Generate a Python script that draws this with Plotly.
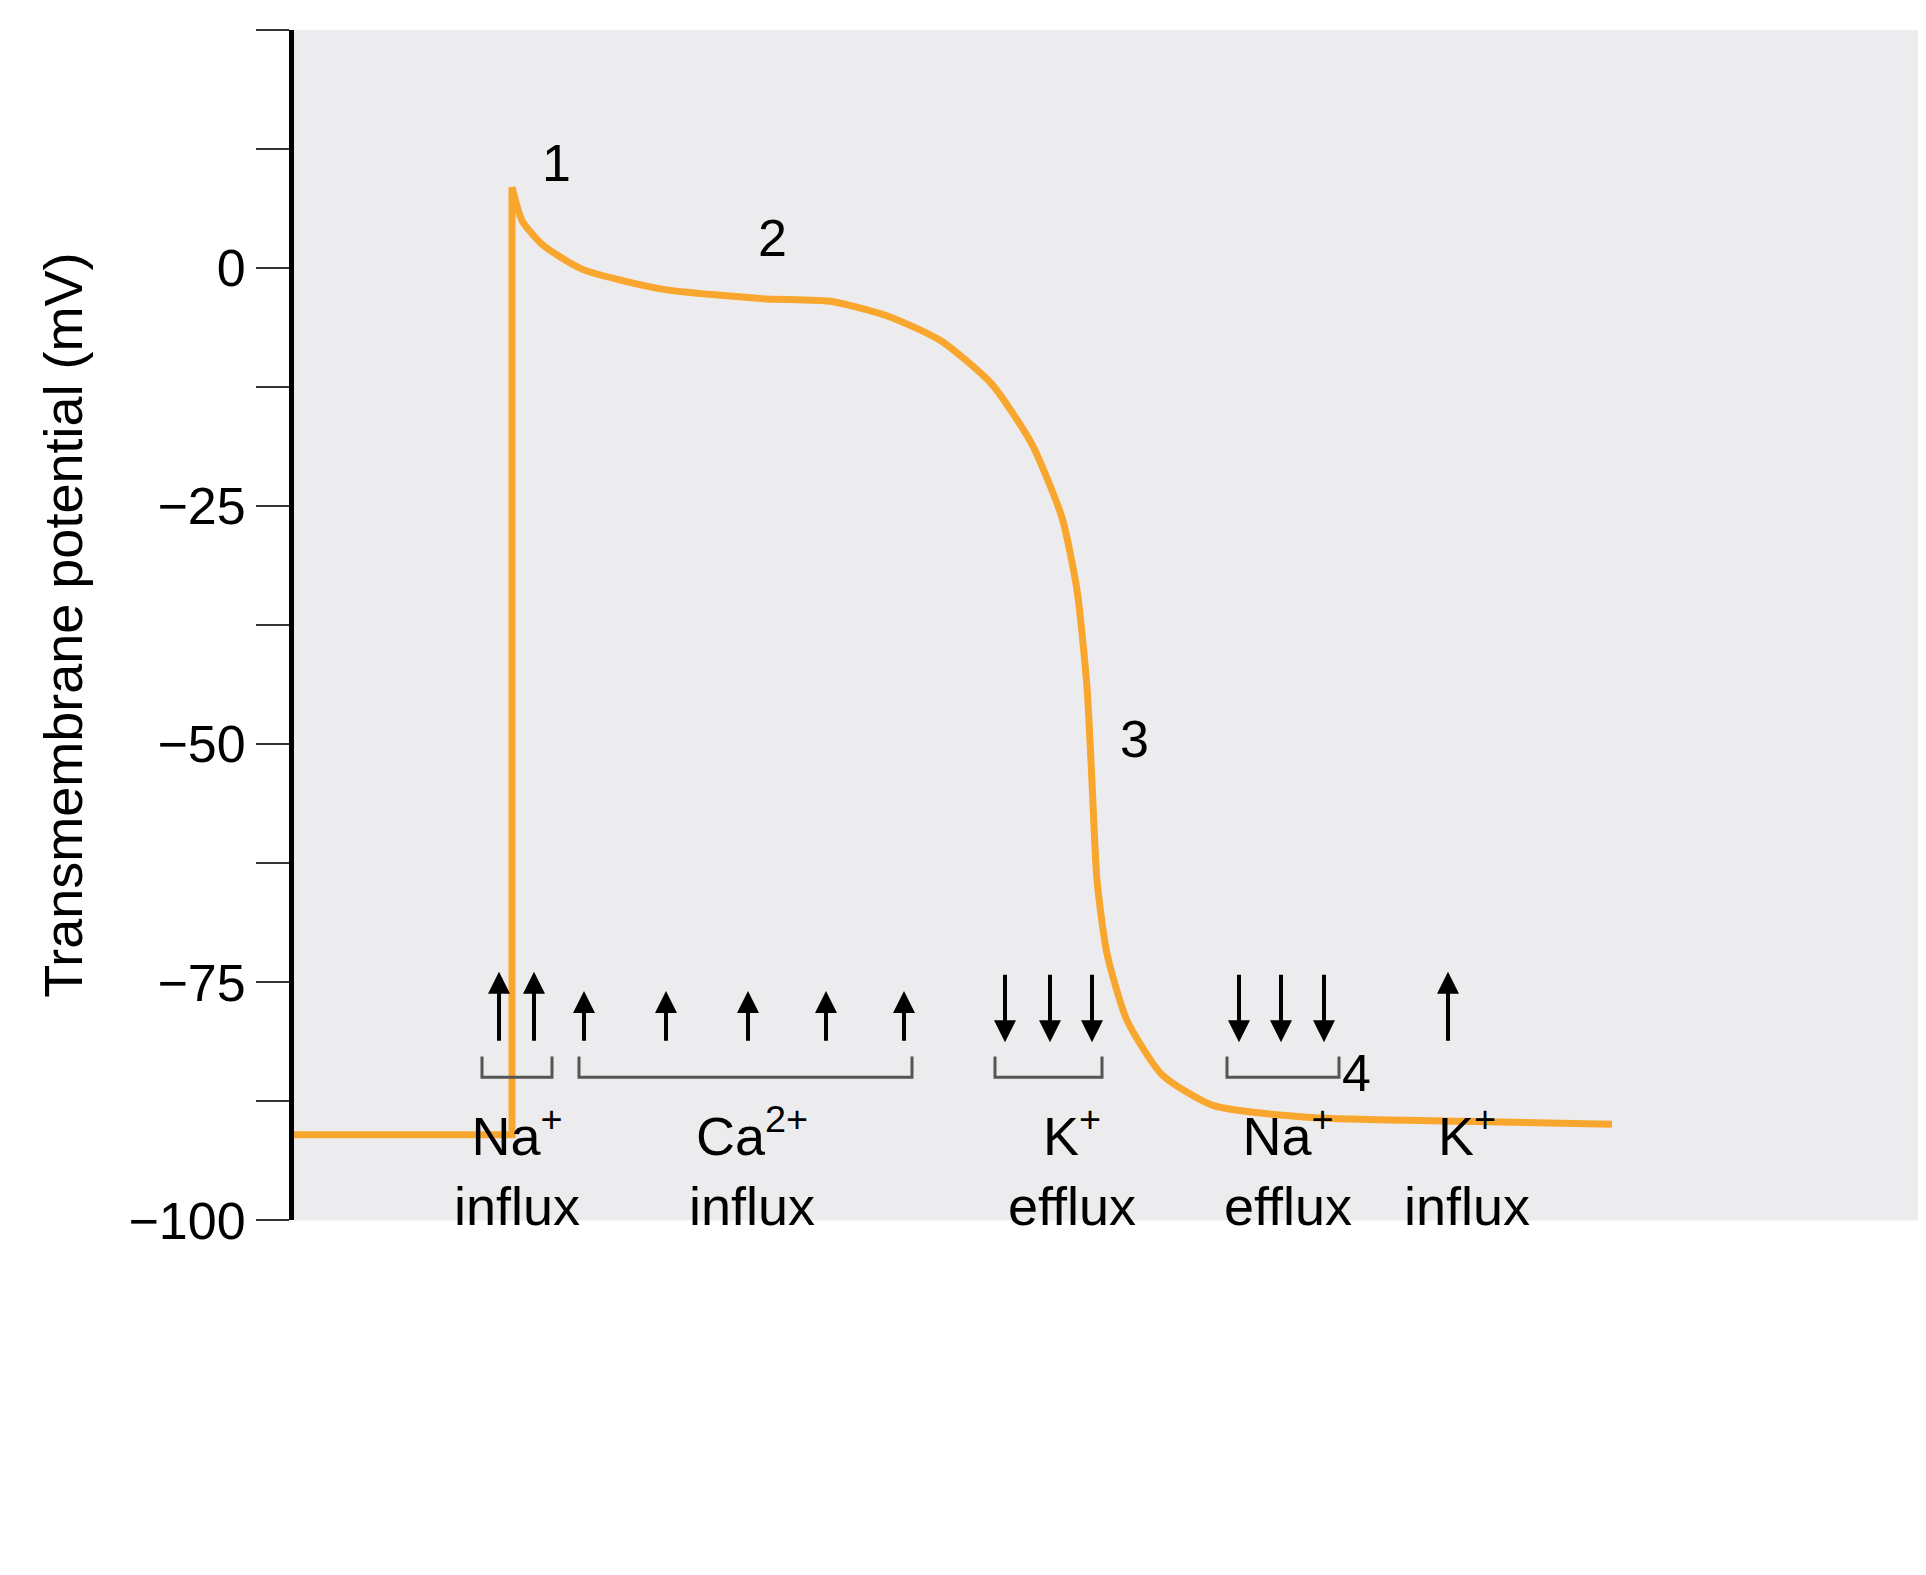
import plotly.graph_objects as go

# action potential trace (time in arbitrary units, potential in mV)
rest_time = [0, 218, 218]
rest_potential = [-91, -91, 8.5]
decay_time = [218, 228, 248, 288, 368, 468, 538, 598, 648, 698, 738, 768, 783, 793, 798, 803,
              813, 833, 868, 918, 1018, 1168, 1318]
decay_potential = [8.5, 5, 2.5, -0.1, -2.2, -3.2, -3.5, -5.2, -7.7, -12.2, -18.5, -26.2,
                   -33.8, -44, -54, -64.3, -72, -79, -84.7, -87.9, -89.2, -89.6, -89.9]

phase_labels = ["1", "2", "3", "4"]
phase_x = [262, 478, 840, 1062]
phase_y = [11, 3.2, -49.5, -84.5]

up_arrows_x = [205, 240, 1154]
up_short_x = [290, 372, 454, 532, 610]
down_arrows_x = [711, 756, 798, 945, 987, 1030]

brackets = [(188, 258), (285, 618), (701, 808), (933, 1045)]
ion_labels = ["Na<sup>+</sup><br>influx", "Ca<sup>2+</sup><br>influx", "K<sup>+</sup><br>efflux",
              "Na<sup>+</sup><br>efflux", "K<sup>+</sup><br>influx"]
ion_x = [223, 458, 778, 994, 1173]

ytick_vals = [25, 0, -25, -50, -75, -100]
ytick_text = ["+25", "0", "\u221225", "\u221250", "\u221275", "\u2212100"]

font = "Liberation Sans, Arial, sans-serif"
orange = "#f8a62d"
fig = go.Figure()
fig.add_trace(go.Scatter(x=rest_time, y=rest_potential, mode="lines",
                         line=dict(color=orange, width=7), hoverinfo="skip"))
fig.add_trace(go.Scatter(x=decay_time, y=decay_potential, mode="lines",
                         line=dict(color=orange, width=7, shape="spline", smoothing=0.6),
                         hoverinfo="skip"))
# invisible trace so the full-height helper axis exists
fig.add_trace(go.Scatter(x=[0], y=[0], yaxis="y2", mode="markers", marker=dict(opacity=0),
                         hoverinfo="skip"))

for t, x, y in zip(phase_labels, phase_x, phase_y):
    fig.add_annotation(x=x, y=y, text=t, showarrow=False, font=dict(size=52, color="black"))

def arrow(x, y0, y1):
    fig.add_annotation(x=x, y=y1, ax=x, ay=y0, xref="x", yref="y2", axref="x", ayref="y2",
                       text="", showarrow=True, arrowhead=2, arrowsize=1.1, arrowwidth=4,
                       arrowcolor="black")

for x in up_arrows_x:
    arrow(x, -111.1, -101.6)
for x in up_short_x:
    arrow(x, -111.1, -104.2)
for x in down_arrows_x:
    arrow(x, -101.8, -111.1)

for x0, x1 in brackets:
    fig.add_shape(type="path", xref="x", yref="y2",
                  path=f"M {x0},-113 L {x0},-115.8 L {x1},-115.8 L {x1},-113",
                  line=dict(color="#555555", width=3))

for t, x in zip(ion_labels, ion_x):
    fig.add_annotation(x=x, y=-127.8, text=t, showarrow=False, xref="x", yref="y2",
                       font=dict(size=54, color="black"), align="center")

b = 340 / 1553
fig.update_layout(
    width=1926, height=1575,
    margin=dict(l=286, r=6, t=22, b=0),
    paper_bgcolor="white", plot_bgcolor="#ececee",
    showlegend=False, font=dict(family=font, color="black"),
    xaxis=dict(range=[0, 1634], visible=False, fixedrange=True),
    yaxis=dict(domain=[b, 1], range=[-100, 25.01], tickvals=ytick_vals, ticktext=ytick_text,
               ticks="outside", ticklen=33, tickwidth=2, tickcolor="#333",
               minor=dict(dtick=12.5, tick0=0, ticks="outside", ticklen=33, tickwidth=2, tickcolor="#333"),
               showgrid=False, zeroline=False, showline=True, linecolor="black", linewidth=5,
               tickfont=dict(size=52), title=dict(text="Transmembrane potential (mV)",
                                                  font=dict(size=54), standoff=30)),
    yaxis2=dict(domain=[0, 1], range=[-100 - 125 * b / (1 - b), 25], overlaying="y",
                anchor="free", position=1, visible=False, fixedrange=True),
)

fig.write_html("out.html")
